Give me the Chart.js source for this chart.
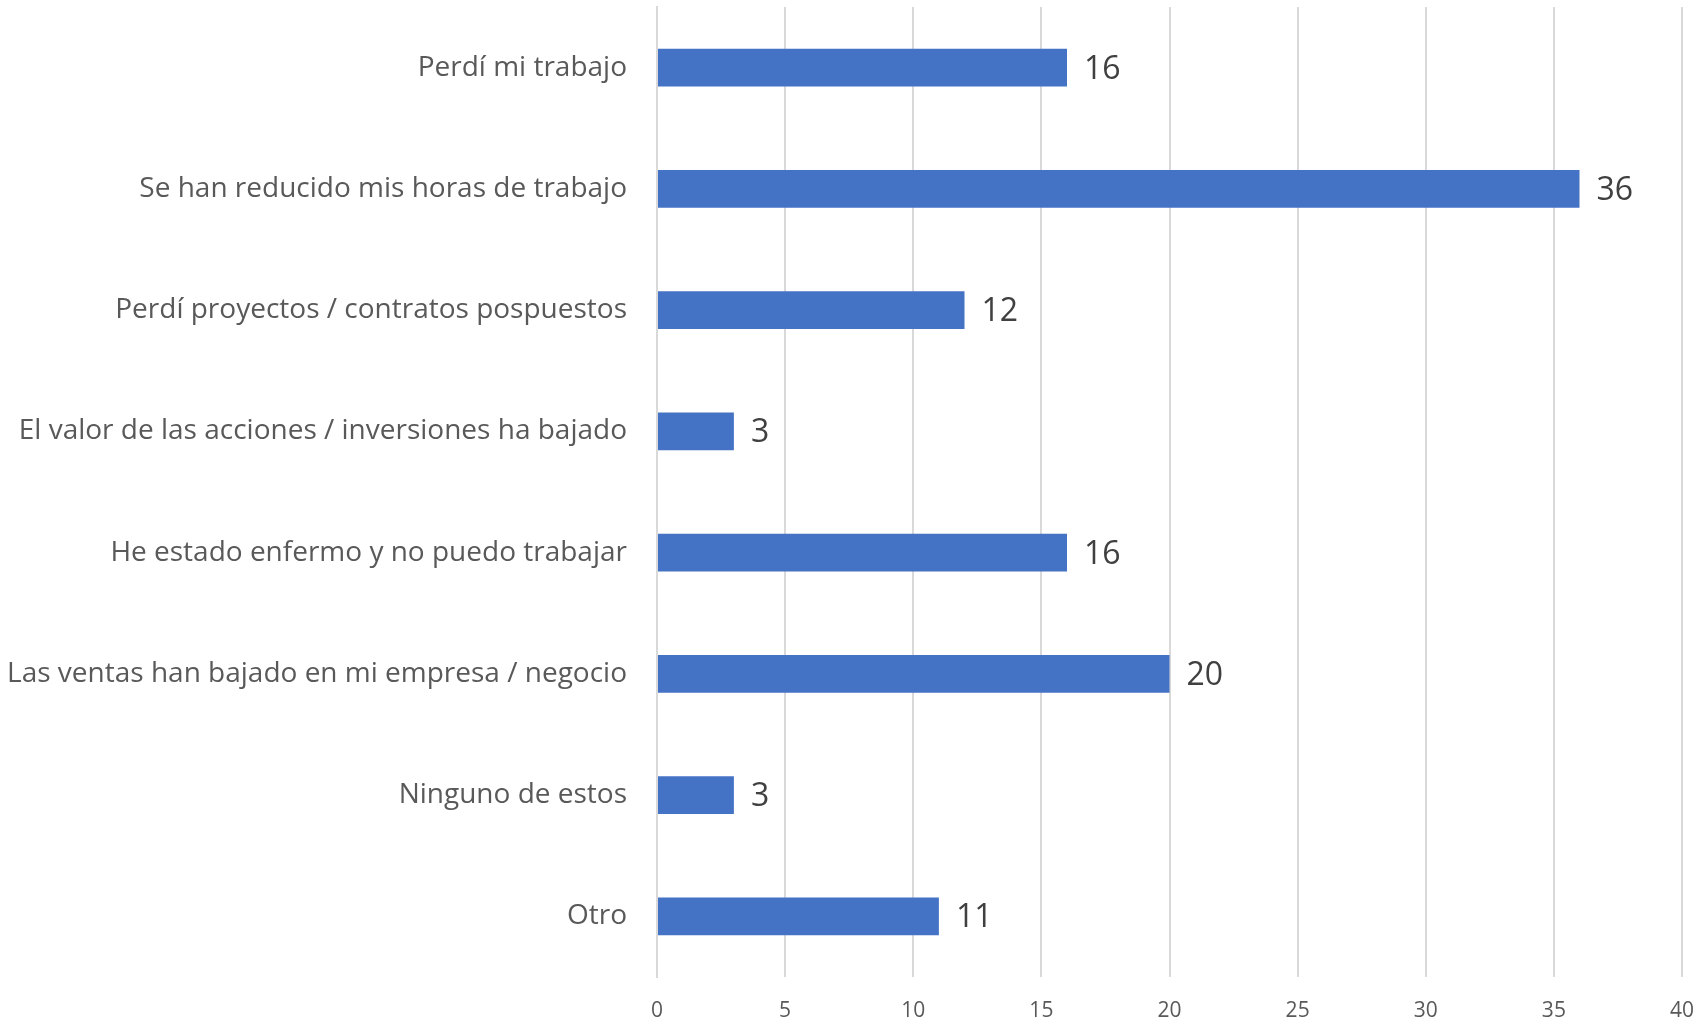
<!DOCTYPE html>
<html>
<head>
<meta charset="utf-8">
<script src="https://cdn.jsdelivr.net/npm/chart.js@4/dist/chart.umd.min.js"></script>
<style>
  html, body { margin: 0; padding: 0; background: #fff; }
  #wrap { width: 1703px; height: 1025px; }
</style>
</head>
<body>
<div id="wrap"><canvas id="chart"></canvas></div>
<script>
const categories = [
  "Perdí mi trabajo",
  "Se han reducido mis horas de trabajo",
  "Perdí proyectos / contratos pospuestos",
  "El valor de las acciones / inversiones ha bajado",
  "He estado enfermo y no puedo trabajar",
  "Las ventas han bajado en mi empresa / negocio",
  "Ninguno de estos",
  "Otro"
];
const values = [16, 36, 12, 3, 16, 20, 3, 11];
const xTicks = [0, 5, 10, 15, 20, 25, 30, 35, 40];

const FONT = "'Open Sans', sans-serif";

// numbers drawn at the end of each bar
const barLabels = {
  id: "barLabels",
  afterDatasetsDraw(chart) {
    const ctx = chart.ctx;
    const meta = chart.getDatasetMeta(0);
    ctx.save();
    ctx.font = "32px " + FONT;
    ctx.fillStyle = "#404040";
    ctx.textAlign = "left";
    ctx.textBaseline = "middle";
    meta.data.forEach((bar, i) => {
      ctx.fillText(String(values[i]), bar.x + 17, bar.y + 2);
    });
    ctx.restore();
  }
};

new Chart(document.getElementById("chart"), {
  type: "bar",
  data: {
    labels: categories,
    datasets: [{
      data: values,
      backgroundColor: "#4472C4",
      borderWidth: 0,
      categoryPercentage: 1,
      barPercentage: 0.31
    }]
  },
  options: {
    indexAxis: "y",
    responsive: true,
    maintainAspectRatio: false,
    animation: false,
    layout: { padding: { top: 7, right: 21, bottom: 0, left: 0 } },
    plugins: {
      legend: { display: false },
      tooltip: { enabled: false }
    },
    scales: {
      x: {
        min: 0,
        max: 40,
        afterBuildTicks(scale) {
          scale.ticks = xTicks.map(v => ({ value: v }));
        },
        afterFit(scale) {
          scale.height = 48;
          scale.paddingLeft = 0;
          scale.paddingRight = 0;
        },
        grid: { color: "#d9d9d9", lineWidth: 2, drawTicks: false },
        border: { display: false },
        ticks: {
          color: "#595959",
          font: { family: FONT, size: 21 },
          padding: 21
        }
      },
      y: {
        afterFit(scale) {
          scale.width = 657;
          scale.paddingTop = 0;
          scale.paddingBottom = 0;
        },
        grid: { display: false },
        border: { display: true, color: "#d9d9d9", width: 2 },
        ticks: {
          color: "#595959",
          font: { family: FONT, size: 28 },
          padding: 22
        }
      }
    }
  },
  plugins: [barLabels]
});
</script>
</body>
</html>
